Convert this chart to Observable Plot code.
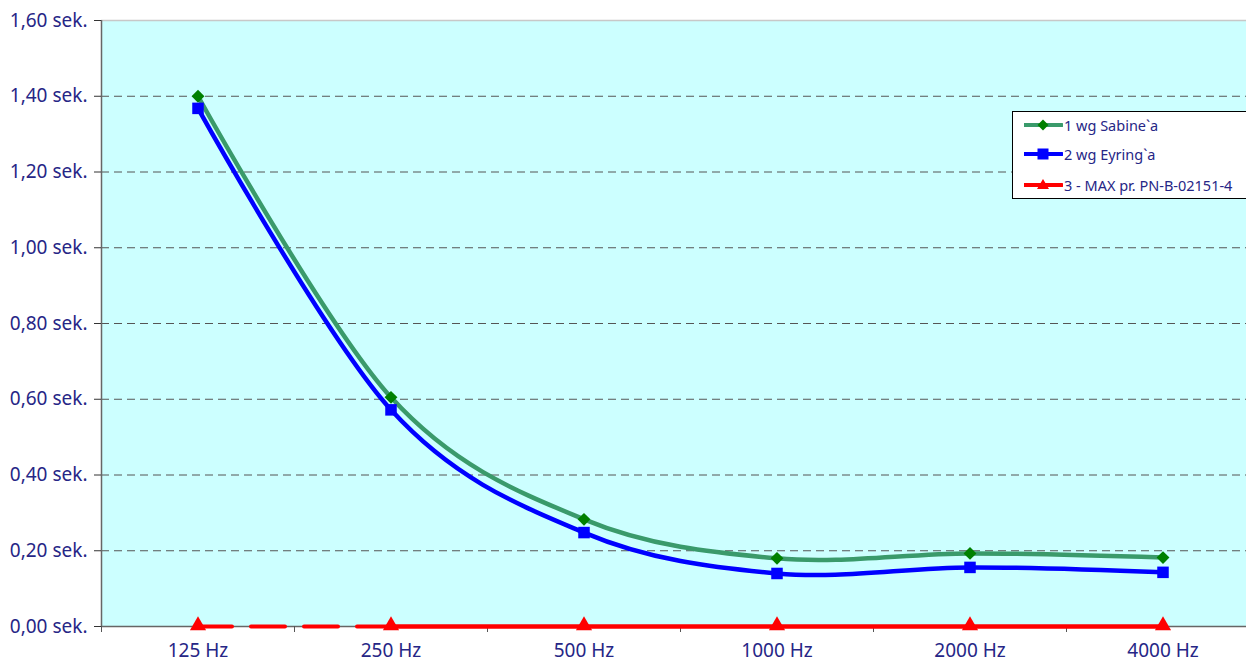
<!DOCTYPE html>
<html>
<head>
<meta charset="utf-8">
<script src="https://cdn.jsdelivr.net/npm/d3@7"></script>
<script src="https://cdn.jsdelivr.net/npm/@observablehq/plot@0.6"></script>
<style>
  html, body { margin: 0; padding: 0; background: #fff; overflow: hidden; width: 1246px; height: 662px; }
  #wrap { position: relative; width: 1246px; height: 662px; overflow: hidden; }
  #legend { position: absolute; left: 1012px; top: 111px; width: 250px; height: 88px; background: #fff; border: 1px solid #000; box-sizing: border-box; font-family: "Noto Sans", sans-serif; font-size: 14.5px; color: #262686; }
  .row { position: absolute; left: 11px; height: 20px; display: flex; align-items: center; }
  .row svg { display: block; }
  .row span { margin-left: 1px; white-space: nowrap; }
</style>
</head>
<body>
<div id="wrap"></div>
<script>
const categories = ["125 Hz", "250 Hz", "500 Hz", "1000 Hz", "2000 Hz", "4000 Hz"];
const sabine = [1.40, 0.605, 0.283, 0.180, 0.193, 0.182];
const eyring = [1.368, 0.572, 0.248, 0.140, 0.156, 0.143];
const maxNorm = [0, 0, 0, 0, 0, 0];
const seriesNames = ["1 wg Sabine`a", "2 wg Eyring`a", "3 - MAX pr. PN-B-02151-4"];
const yTicks = [0, 0.2, 0.4, 0.6, 0.8, 1.0, 1.2, 1.4, 1.6];

const GREEN = "#3a9a6b", GREEN_M = "#008000", BLUE = "#0000ff", RED = "#ff0000", TXT = "#262686";

const rows = (vals) => vals.map((v, i) => ({i, v}));
const sab = rows(sabine), eyr = rows(eyring), red = rows(maxNorm);
const fmt = (d) => d.toFixed(2).replace(".", ",") + " sek.";

const chart = Plot.plot({
  width: 1260,
  height: 662,
  marginLeft: 101,
  marginRight: 1,
  marginTop: 20,
  marginBottom: 36,
  style: { fontFamily: "Noto Sans, sans-serif", fontSize: "19px", color: TXT, background: "transparent" },
  x: { domain: [-0.5, categories.length - 0.5], axis: null },
  y: { domain: [0, 1.6], axis: null },
  marks: [
    Plot.frame({ fill: "#ccffff", stroke: null }),
    Plot.ruleY(yTicks.filter(t => t > 0 && t < 1.6), { stroke: "#555", strokeWidth: 1, strokeDasharray: "8,5" }),
    Plot.ruleY([1.6], { stroke: "#c8c8c8", strokeWidth: 1.5 }),
    Plot.ruleX([-0.5], { stroke: "#666", strokeWidth: 1.5 }),
    Plot.ruleY([0], { stroke: "#666", strokeWidth: 1.5 }),
    Plot.axisY({ ticks: yTicks, tickFormat: fmt, tickSize: 7, tickPadding: 7, stroke: "#333", fill: TXT, fontSize: 19, label: null }),
    Plot.axisX({ ticks: d3.range(-0.5, categories.length, 1), tickFormat: () => "", tickSize: 6, stroke: "#555", label: null }),
    Plot.axisX({ ticks: d3.range(categories.length), tickFormat: i => categories[i], tickSize: 0, tickPadding: 17, fill: TXT, fontSize: 19, label: null }),
    Plot.line(red.slice(0, 2), { x: "i", y: "v", stroke: RED, strokeWidth: 4, strokeDasharray: "34,19" }),
    Plot.line(red.slice(1), { x: "i", y: "v", stroke: RED, strokeWidth: 4.5 }),
    Plot.line(sab, { x: "i", y: "v", stroke: GREEN, strokeWidth: 4.5, curve: "cardinal" }),
    Plot.line(eyr, { x: "i", y: "v", stroke: BLUE, strokeWidth: 4.5, curve: "cardinal" }),
    Plot.dot(sab, { x: "i", y: "v", symbol: "diamond2", r: 5.8, fill: GREEN_M, stroke: null }),
    Plot.dot(eyr, { x: "i", y: "v", symbol: "square", r: 6.5, fill: BLUE, stroke: null }),
    Plot.dot(red, { x: "i", y: "v", symbol: "triangle", r: 6, fill: RED, stroke: null, dy: -1 })
  ]
});
chart.style.position = "absolute";
chart.style.left = "0px";
chart.style.top = "0px";
chart.style.maxWidth = "none";
chart.setAttribute("width", 1260);
chart.setAttribute("height", 662);
const wrap = document.getElementById("wrap");
wrap.appendChild(chart);

// Legend
const legend = document.createElement("div");
legend.id = "legend";
const sw = [
  { c: GREEN, m: `<path d="M19,4.5 L24.5,10 L19,15.5 L13.5,10 Z" fill="${GREEN_M}"/>` },
  { c: BLUE, m: `<rect x="13.5" y="4.5" width="11" height="11" fill="${BLUE}"/>` },
  { c: RED, m: `<path d="M19,4 L25,14 L13,14 Z" fill="${RED}"/>` }
];
const tops = [3, 32, 63];
seriesNames.forEach((name, k) => {
  const r = document.createElement("div");
  r.className = "row";
  r.style.top = tops[k] + "px";
  r.innerHTML = `<svg width="39" height="20"><line x1="0" x2="38" y1="10" y2="10" stroke="${sw[k].c}" stroke-width="4" stroke-linecap="round"/>${sw[k].m}</svg><span>${name}</span>`;
  legend.appendChild(r);
});
wrap.appendChild(legend);
</script>
</body>
</html>
